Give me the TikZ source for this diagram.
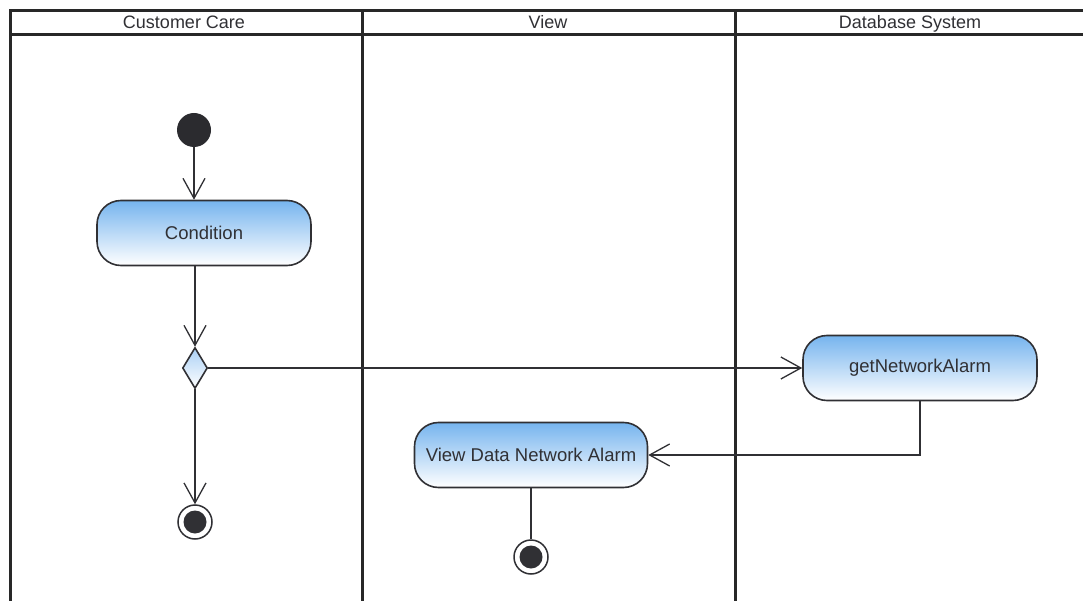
\documentclass[tikz,border=0pt]{standalone}
\usepackage{fontspec}
\setmainfont{Liberation Sans}
\usetikzlibrary{arrows.meta,shapes.geometric}
\definecolor{laneink}{RGB}{40,40,40}
\definecolor{ink}{RGB}{48,48,52}
\definecolor{acttop}{RGB}{118,180,238}
\definecolor{diatop}{RGB}{170,208,245}
\tikzset{
  lanerule/.style={draw=laneink, line width=3pt},
  lanetitle/.style={font=\fontsize{18}{20}\selectfont, text=ink, inner sep=0pt, anchor=base},
  action/.style={draw=ink, line width=1.6pt, rounded corners=24pt,
    top color=acttop, bottom color=white, minimum height=65pt,
    inner sep=0pt, font=\fontsize{18.5}{20}\selectfont, text=ink},
  startnode/.style={circle, fill=ink!90!black, minimum size=34pt, inner sep=0pt},
  endnode/.style={circle, draw=ink, line width=1.5pt, fill=white,
    minimum size=34pt, inner sep=0pt,
    path picture={\fill[ink] (path picture bounding box.center) circle (11.5pt);}},
  choice/.style={diamond, draw=ink, line width=1.6pt, top color=diatop,
    bottom color=white, minimum width=25pt, minimum height=41pt, inner sep=0pt},
  flow/.style={draw=ink, line width=1.3pt,
    -{Straight Barb[length=20pt,width=22pt,line width=1.3pt]}},
  plain/.style={draw=ink, line width=1.3pt}
}
\begin{document}
\begin{tikzpicture}[x=1pt,y=-1pt]
\useasboundingbox (0,0) rectangle (1083,601);

% swimlane frame
\draw[lanerule] (1083,11) -- (10,11) -- (10,601);
\draw[lanerule] (10,35) -- (1083,35);
\draw[lanerule] (362,11) -- (362,601);
\draw[lanerule] (735,11) -- (735,601);

\node[lanetitle] (laneA) at (184,29) {Customer Care};
\node[lanetitle] (laneB) at (548,29) {View};
\node[lanetitle] (laneC) at (910,29) {Database System};

% activity nodes
\node[startnode] (init) at (194,130) {};
\node[action, minimum width=214pt] (cond) at (204,233) {Condition};
\node[choice] (dec) at (195,368) {};
\node[action, minimum width=234pt] (getna) at (920,368) {getNetworkAlarm};
\node[action, minimum width=233pt] (viewna) at (531,455) {View Data Network Alarm};
\node[endnode] (endA) at (195,522) {};
\node[endnode] (endB) at (531,557) {};

% control flows
\draw[flow] (init) -- (init |- cond.north);
\draw[flow] (dec |- cond.south) -- (dec.north);
\draw[flow] (dec.east) -- (getna.west);
\draw[flow] (dec.south) -- (endA.north);
\draw[flow] (getna.south) |- (viewna.east);
\draw[plain] (viewna.south) -- (endB.north);
\end{tikzpicture}
\end{document}
